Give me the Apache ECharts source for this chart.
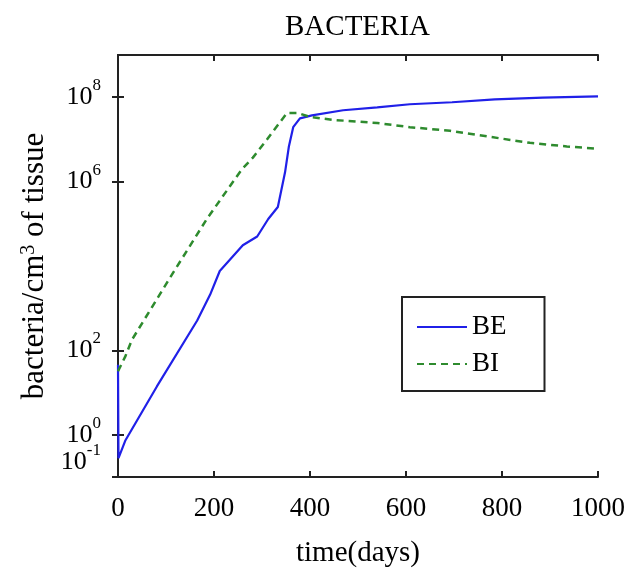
<!DOCTYPE html>
<html>
<head>
<meta charset="utf-8">
<script src="https://cdn.jsdelivr.net/npm/echarts@6/dist/echarts.min.js"></script>
<style>html,body{margin:0;padding:0;background:#fff;}#c{width:630px;height:573px;}</style>
</head>
<body>
<div id="c"></div>
<script>
// Data (days, bacteria/cm^3)
var beDays = [0, 1, 15, 81, 165, 192, 212, 233, 260, 290, 313, 333, 348, 356, 365, 379, 404, 469, 540, 608, 696, 785, 885, 1000];
var beValues = [46, 0.28, 0.72, 14, 510, 2.1e3, 7.6e3, 1.4e4, 3.1e4, 5.0e4, 1.3e5, 2.5e5, 1.66e6, 6.8e6, 1.95e7, 3.16e7, 3.7e7, 4.9e7, 5.75e7, 6.8e7, 7.6e7, 8.9e7, 9.8e7, 1.05e8];
var biDays = [0, 15, 29, 108, 185, 258, 281, 310, 333, 352, 375, 400, 448, 540, 608, 692, 775, 858, 935, 1000];
var biValues = [32, 71, 178, 5.2e3, 1.3e5, 1.95e6, 3.7e6, 9.8e6, 2.2e7, 4.2e7, 4.2e7, 3.4e7, 2.9e7, 2.45e7, 1.95e7, 1.6e7, 1.15e7, 8.3e6, 6.8e6, 6.0e6];
var xTicks = [0, 200, 400, 600, 800, 1000];
// y tick labels (0.1 listed last)
var yTickValues = [1, 100, 1e6, 1e8, 0.1];
var seriesNames = ['BE', 'BI'];

function pairs(xs, ys) { return xs.map(function (x, i) { return [x, ys[i]]; }); }

var FONT = 'Liberation Serif';
var chart = echarts.init(document.getElementById('c'), null, {renderer: 'canvas'});
var axisLineStyle = {color: '#222', width: 2};
var tickStyle = {color: '#222', width: 2};
var option = {
  animation: false,
  backgroundColor: '#fff',
  textStyle: {fontFamily: FONT, color: '#000'},
  title: {
    text: 'BACTERIA', left: 280, top: 8,
    textStyle: {fontFamily: FONT, fontSize: 29, fontWeight: 'normal', color: '#000'}
  },
  legend: {
    data: seriesNames.map(function (n) { return {name: n}; }),
    orient: 'vertical',
    left: 402, top: 297,
    padding: [15, 38, 12, 14],
    itemWidth: 50, itemHeight: 14, itemGap: 7,
    borderColor: '#222', borderWidth: 2,
    backgroundColor: '#fff',
    itemStyle: {opacity: 0},
    textStyle: {fontFamily: FONT, fontSize: 27, color: '#000', lineHeight: 30}
  },
  grid: {left: 118, right: 32, top: 55, bottom: 91, containLabel: false},
  xAxis: [{
    type: 'value', min: 0, max: 1000, interval: 200,
    position: 'bottom',
    name: 'time(days)', nameLocation: 'middle', nameGap: 62,
    nameTextStyle: {fontFamily: FONT, fontSize: 29, color: '#000'},
    axisLine: {show: true, lineStyle: axisLineStyle},
    axisTick: {show: true, inside: true, length: 6, lineStyle: tickStyle},
    axisLabel: {
      customValues: xTicks,
      fontFamily: FONT, fontSize: 27, color: '#000', margin: 18,
      formatter: function (v) { return String(v); }
    },
    splitLine: {show: false}
  }, {
    type: 'value', min: 0, max: 1000, interval: 200,
    position: 'top',
    axisLine: {show: true, lineStyle: axisLineStyle},
    axisTick: {show: true, inside: true, length: 6, lineStyle: tickStyle},
    axisLabel: {show: false},
    splitLine: {show: false}
  }],
  yAxis: [{
    type: 'log', logBase: 10, min: 0.1, max: 1e9,
    position: 'left',
    name: 'bacteria/cm{sup|3} of tissue',
    nameLocation: 'middle', nameGap: 68, nameRotate: 90,
    nameTextStyle: {
      fontFamily: FONT, fontSize: 31, color: '#000',
      rich: {sup: {fontFamily: FONT, fontSize: 20, color: '#000', verticalAlign: 'top', lineHeight: 20}}
    },
    axisLine: {show: true, lineStyle: axisLineStyle},
    axisTick: {show: true, inside: true, length: 6, customValues: yTickValues, lineStyle: tickStyle},
    axisLabel: {
      customValues: yTickValues,
      hideOverlap: false,
      margin: 17,
      formatter: function (v) {
        var e = Math.round(Math.log(v) / Math.LN10);
        if (e === -1) return '{b|10}{sup|-1}\n{gap| }';
        return '{b|10}{sup|' + e + '}';
      },
      rich: {
        b: {fontFamily: FONT, fontSize: 26, color: '#000', lineHeight: 40},
        sup: {fontFamily: FONT, fontSize: 17, color: '#000', verticalAlign: 'top', lineHeight: 17},
        gap: {fontSize: 4, lineHeight: 30}
      }
    },
    splitLine: {show: false}
  }, {
    type: 'log', logBase: 10, min: 0.1, max: 1e9,
    position: 'right',
    axisLine: {show: true, lineStyle: axisLineStyle},
    axisTick: {show: true, inside: true, length: 6, customValues: yTickValues, lineStyle: tickStyle},
    axisLabel: {show: false},
    splitLine: {show: false}
  }],
  series: [{
    name: seriesNames[0], type: 'line', symbol: 'none',
    data: pairs(beDays, beValues),
    lineStyle: {color: '#2020e8', width: 2.2},
    itemStyle: {color: '#2020e8'}
  }, {
    name: seriesNames[1], type: 'line', symbol: 'none',
    data: pairs(biDays, biValues),
    lineStyle: {color: '#2e8b2e', width: 2.5, type: [7, 5]},
    itemStyle: {color: '#2e8b2e'}
  }]
};
chart.setOption(option);
</script>
</body>
</html>
